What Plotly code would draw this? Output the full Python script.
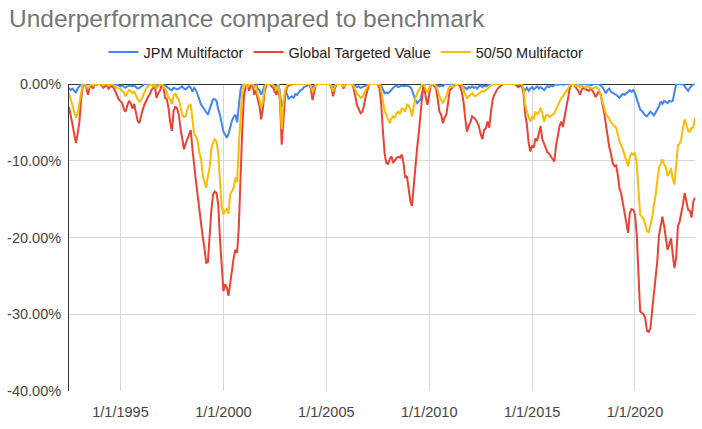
import pandas as pd
import plotly.graph_objects as go

# Monthly observations, Jul 1992 .. Dec 2022 (percent underperformance)
start_month = "1992-07-01"
end_month = "2022-12-01"

jpm_multifactor = [
    -0.5, -0.8, -0.6, -0.8, -1.1, -0.6,
    -0.3, 0, 0, 0, -0.1, 0, 0, 0, 0, 0, 0, 0,
    0, 0, 0, 0, 0, 0, 0, 0, 0, 0, -0.1, -0.2,
    -0.3, -0.2, -0.3, -0.5, -0.3, -0.2, -0.2, -0.3, -0.2, -0.4, -0.6, -0.5,
    -0.4, -0.2, 0, 0, 0, 0, 0, -0.2, 0, -0.2, 0, 0,
    0, 0, -0.2, -0.4, -0.5, -0.7, -0.8, -0.5, -0.6, -0.7, -0.6, -0.5,
    -0.3, -0.6, -0.7, -0.5, -0.3, -0.5, -1.0, -0.5, -0.8, -1.4, -2.0, -2.7,
    -3.0, -3.3, -3.6, -4.0, -3.3, -2.6, -2.0, -2.0, -2.2, -3.3, -4.0, -5.1,
    -6.2, -6.6, -7.0, -6.5, -5.6, -4.8, -4.3, -4.0, -5.0, -2.6, -0.7, 0,
    0, 0, -0.2, 0, 0, 0, -0.3, 0, -0.6, -0.8, -1.4, -0.8,
    -0.2, 0, 0, 0, 0, -0.1, -0.2, -0.3, 0, -1.0, -3.0, -2.5,
    -1.0, -1.3, -1.9, -1.7, -1.6, -1.8, -1.3, -1.4, -1.0, -0.8, -0.7, -0.4,
    -0.3, -0.2, 0, -0.2, -0.5, -0.2, 0, 0, 0, 0, 0, 0,
    0, 0, 0, -0.2, -0.5, -0.2, 0, 0, 0, 0, -0.2, 0,
    0, 0, 0, 0, -0.1, -0.3, -0.4, -0.3, -0.5, -0.4, -0.3, -0.1,
    0, 0, 0, 0, 0, 0, 0, 0, -0.2, -0.6, -1.2, -1.1,
    -1.2, -1.0, -0.7, -0.5, -0.3, -0.2, -0.4, -0.3, -0.2, -0.3, -0.2, -0.2,
    -0.3, -0.4, -0.8, -1.6, -2.1, -2.5, -2.3, -2.0, -1.0, 0, 0, 0,
    0, 0, 0, 0, 0, -0.2, -0.3, -0.2, -0.3, 0, 0, 0,
    0, 0, 0, 0, 0, 0, 0, -0.2, -0.3, -0.5, -0.7, -0.4,
    -0.5, -0.3, -0.5, -0.4, -0.6, -0.3, -0.2, -0.4, -0.2, -0.3, -0.2, 0,
    0, 0, 0, 0, 0, 0, 0, 0, 0, 0, 0, 0,
    0, 0, 0, -0.2, -0.3, -0.2, -0.4, -0.5, -0.8, -0.5, -0.9, -0.6,
    -0.4, -0.7, -0.5, -0.3, -0.6, -0.4, -0.6, -0.8, -0.5, -0.3, -0.4, -0.2,
    -0.3, -0.1, 0, -0.1, 0, 0, -0.1, 0, 0, 0, 0, 0,
    0, 0, -0.2, -0.1, -0.3, 0, 0, 0, -0.1, 0, -0.2, -0.1,
    0, 0, 0, 0, -0.2, -0.4, -0.8, -1.2, -0.8, -0.6, -1.0, -1.2,
    -1.3, -1.4, -1.6, -1.8, -1.5, -1.3, -1.4, -1.2, -0.9, -0.8, -1.0, -0.8,
    -1.2, -2.0, -2.6, -3.3, -3.5, -3.9, -4.1, -4.2, -3.8, -3.6, -3.8, -4.1,
    -3.7, -3.3, -2.9, -2.3, -2.6, -2.2, -2.3, -2.5, -2.2, -2.3, -2.2, -1.0,
    0, 0, 0, 0, 0, -0.3, -0.6, -0.9, -0.5, -0.3, 0, 0,
]

global_targeted_value = [
    -3.0, -4.0, -5.3, -6.5, -7.7, -6.5,
    -5.0, -2.0, -0.3, 0, -0.4, -1.4, -0.5, -0.2, -0.6, 0, -0.1, 0,
    0, -0.2, -0.5, -0.3, -0.1, -0.6, -0.4, -0.2, -0.5, -0.9, -1.5, -2.0,
    -2.2, -2.5, -3.3, -3.6, -2.8, -2.2, -2.5, -3.2, -2.6, -3.8, -4.8, -5.1,
    -4.0, -3.3, -2.7, -2.1, -1.7, -1.4, -0.8, -0.5, -0.2, -1.8, -1.2, -0.9,
    -0.1, -0.3, -1.8, -2.0, -3.1, -5.0, -6.1, -3.5, -2.9, -3.2, -4.0, -5.8,
    -7.4, -8.5, -7.8, -7.2, -6.4, -6.0, -8.5, -10.9, -12.7, -14.5, -16.6, -17.9,
    -20.0, -21.5, -23.3, -23.2, -19.6, -16.5, -14.4, -14.0, -14.2, -15.7, -20.1, -23.5,
    -27.0, -26.1, -26.5, -27.6, -25.9, -24.5, -22.7, -21.6, -22.0, -18.5, -11.8, -6.0,
    -1.5, -0.3, 0, -0.9, -0.2, 0, -1.4, -0.8, -2.0, -2.8, -4.6, -3.2,
    -1.0, -0.2, 0, 0, -0.3, -0.5, -1.0, -1.4, -0.2, -2.2, -7.9, -4.9,
    -1.5, -0.5, -0.2, -0.1, 0, 0, 0, 0, 0, 0, 0, 0,
    0, 0, 0, -0.6, -2.1, -1.0, 0, 0, 0, 0, 0, 0,
    0, 0, 0, -0.5, -1.6, -0.6, 0, 0, 0, 0, -0.6, -0.1,
    0, 0, 0, 0, -0.6, -1.7, -2.8, -3.3, -3.8, -3.6, -2.8, -1.6,
    -0.7, 0, 0, 0, 0, 0, 0, -0.5, -2.5, -6.0, -9.0, -10.3,
    -10.4, -9.8, -9.4, -10.2, -10.0, -9.6, -9.5, -9.6, -9.2, -10.3, -12.2, -12.0,
    -13.5, -15.3, -15.9, -13.1, -10.0, -8.3, -6.3, -3.6, -1.4, 0, -1.8, -2.7,
    -1.0, 0, 0, -0.3, -0.6, -2.0, -3.6, -4.0, -5.1, -4.4, -4.0, -2.5,
    -0.8, -0.6, -0.4, -0.2, 0, 0, -0.3, -1.0, -2.3, -4.4, -6.2, -5.5,
    -5.0, -4.2, -4.4, -4.6, -5.0, -5.5, -6.5, -7.2, -6.0, -5.8, -4.9, -5.7,
    -3.6, -2.0, -1.4, -1.0, -0.6, -0.4, -0.2, 0, 0, 0, 0, 0,
    0, 0, 0, -0.2, -0.4, -0.2, 0, -1.2, -4.0, -5.3, -7.7, -8.8,
    -8.0, -8.3, -7.1, -7.4, -6.2, -5.5, -7.2, -7.8, -8.4, -8.9, -9.1, -9.5,
    -9.8, -10.1, -8.0, -6.8, -5.5, -4.9, -5.6, -4.2, -2.7, -1.8, -0.5, 0,
    0, -0.3, -0.6, -0.9, -1.4, -0.7, -0.5, -0.6, -0.7, -0.9, -0.6, -0.8,
    -1.2, -1.7, -1.4, -0.9, -1.3, -2.4, -3.7, -5.2, -7.0, -8.2, -9.1, -10.3,
    -10.7, -10.6, -11.8, -13.6, -14.3, -15.7, -16.6, -17.9, -19.4, -16.8, -16.3, -16.4,
    -17.0, -19.6, -24.4, -29.6, -29.8, -30.0, -30.5, -32.2, -32.3, -31.8, -29.5, -27.5,
    -25.5, -23.0, -19.8, -18.5, -17.3, -18.5, -20.1, -21.6, -20.9, -20.1, -22.2, -24.0,
    -22.6, -18.5, -18.0, -17.0, -15.7, -14.2, -15.3, -16.4, -16.5, -17.4, -15.3, -14.8,
]

multifactor_50_50 = [
    -1.2, -2.0, -2.9, -3.6, -4.4, -3.8,
    -2.6, -1.0, 0, 0, -0.3, -0.6, -0.3, 0, -0.2, 0, 0, 0,
    0, 0, -0.2, 0, 0, -0.2, -0.1, 0, -0.2, -0.4, -0.5, -0.6,
    -0.6, -0.9, -1.1, -1.6, -1.2, -0.8, -0.9, -1.2, -1.0, -1.6, -2.0, -2.3,
    -2.1, -1.6, -1.0, -0.6, -0.3, -0.2, 0, -0.4, 0, -0.6, -0.2, 0,
    0, -0.3, -0.6, -1.0, -1.8, -2.0, -2.6, -1.5, -1.2, -1.8, -2.0, -3.0,
    -4.0, -4.3, -4.2, -3.3, -2.8, -2.7, -4.3, -6.6, -6.8, -7.5, -9.0, -9.8,
    -12.0, -13.0, -13.5, -12.0, -10.9, -8.5, -7.6, -7.2, -7.5, -9.0, -12.5, -15.9,
    -17.0, -16.5, -16.3, -16.9, -14.4, -14.0, -13.5, -12.2, -12.8, -8.0, -3.5, -0.8,
    0, 0, -0.5, 0, 0, 0, -0.4, -0.3, -1.4, -2.0, -3.1, -2.4,
    -0.5, 0, 0, 0, 0, -0.2, -0.4, -0.8, 0, -1.5, -5.9, -2.5,
    -0.8, -0.2, 0, 0, 0, 0, 0, 0, 0, 0, 0, 0,
    0, 0, 0, -0.3, -1.0, -0.5, 0, 0, 0, 0, 0, 0,
    0, 0, 0, -0.3, -1.0, -0.3, 0, 0, 0, 0, -0.4, 0,
    0, 0, 0, 0, -0.3, -0.8, -1.3, -1.5, -1.8, -1.7, -1.3, -0.8,
    -0.3, 0, 0, 0, 0, 0, 0, 0, -0.8, -2.5, -3.5, -4.0,
    -4.6, -5.1, -4.5, -4.2, -4.4, -3.8, -3.6, -3.9, -3.2, -3.3, -3.6, -2.7,
    -2.8, -3.3, -4.2, -3.0, -1.8, -1.2, -0.8, -0.4, 0, 0, -0.8, -1.1,
    -0.4, 0, 0, 0, -0.3, -0.8, -1.6, -2.0, -2.5, -2.0, -1.6, -0.8,
    -0.3, -0.2, -0.4, -0.1, 0, 0, 0, 0, -0.7, -1.3, -1.9, -1.6,
    -1.4, -1.2, -1.5, -1.6, -1.4, -1.2, -1.0, -0.9, -1.0, -0.8, -0.6, -0.5,
    -0.3, 0, 0, 0, 0, 0, 0, 0, 0, 0, 0, 0,
    0, 0, 0, 0, 0, 0, 0, -0.6, -2.8, -3.6, -4.4, -4.9,
    -4.3, -4.5, -3.6, -3.9, -3.7, -3.1, -3.8, -4.9, -4.1, -4.0, -4.3, -4.2,
    -4.0, -3.8, -3.3, -2.7, -2.1, -1.8, -1.6, -1.2, -0.9, -0.6, -0.2, 0,
    0, -0.2, -0.3, 0, -0.4, -0.2, -0.3, -0.5, -0.3, -0.4, -0.5, -0.6,
    -0.5, -0.4, -0.5, -0.7, -1.4, -2.3, -3.0, -3.9, -4.2, -4.6, -4.9, -5.3,
    -5.5, -5.7, -6.5, -7.5, -8.0, -8.5, -9.3, -10.0, -10.7, -9.5, -9.0, -9.2,
    -9.0, -10.4, -13.1, -17.0, -17.3, -17.6, -18.2, -19.2, -19.3, -18.5, -17.4, -15.8,
    -14.5, -12.5, -10.9, -10.4, -9.8, -10.5, -10.9, -12.0, -11.6, -11.0, -12.4, -13.1,
    -11.0, -8.0, -7.8, -7.2, -5.7, -4.6, -5.3, -6.1, -6.2, -5.7, -5.7, -4.4,
]

series_names = ["JPM Multifactor", "Global Targeted Value", "50/50 Multifactor"]
series_colors = ["#4285F4", "#EA4335", "#FBBC04"]

y_tick_values = [0, -10, -20, -30, -40]
y_tick_labels = ["0.00%", "-10.00%", "-20.00%", "-30.00%", "-40.00%"]
x_tick_values = ["1995-01-01", "2000-01-01", "2005-01-01", "2010-01-01", "2015-01-01", "2020-01-01"]
x_tick_labels = ["1/1/1995", "1/1/2000", "1/1/2005", "1/1/2010", "1/1/2015", "1/1/2020"]

dates = pd.date_range(start_month, end_month, freq="MS")

fig = go.Figure()
for name, color, values in zip(series_names, series_colors,
                               [jpm_multifactor, global_targeted_value, multifactor_50_50]):
    fig.add_trace(go.Scatter(x=dates, y=values, mode="lines", name=name,
                             line=dict(color=color, width=2)))

font_family = "Arial, 'Liberation Sans', sans-serif"
fig.update_layout(
    width=702, height=429,
    margin=dict(l=69, r=7, t=84, b=38, autoexpand=False),
    paper_bgcolor="white", plot_bgcolor="white",
    font=dict(family=font_family, color="#444444", size=14),
    title=dict(text="Underperformance compared to benchmark", x=9 / 702, xanchor="left",
               y=1 - 18 / 429, yanchor="middle",
               font=dict(family=font_family, size=24.5, color="#757575")),
    legend=dict(orientation="h", xref="container", yref="container",
                x=346 / 702, xanchor="center", y=1 - 52 / 429, yanchor="middle",
                font=dict(size=14.5, color="#222222"), itemwidth=30,
                bgcolor="rgba(0,0,0,0)"),
    showlegend=True,
)
fig.update_xaxes(range=[dates[0], dates[-1]], tickvals=x_tick_values, ticktext=x_tick_labels,
                 showgrid=True, gridcolor="#d9d9d9", gridwidth=1, showline=False,
                 ticks="", tickfont=dict(size=14.5, color="#444444"), zeroline=False,
                 automargin=False, ticklabelstandoff=10)
fig.update_yaxes(range=[-40, 0], tickvals=y_tick_values, ticktext=y_tick_labels,
                 showgrid=True, gridcolor="#d9d9d9", gridwidth=1,
                 showline=True, linecolor="#333333", linewidth=1,
                 zeroline=True, zerolinecolor="#333333", zerolinewidth=1,
                 ticks="", tickfont=dict(size=14.5, color="#444444"),
                 automargin=False, ticklabelstandoff=4)

fig.write_html("out.html", config={"displayModeBar": False},
               post_script="document.body.style.margin='0';")
